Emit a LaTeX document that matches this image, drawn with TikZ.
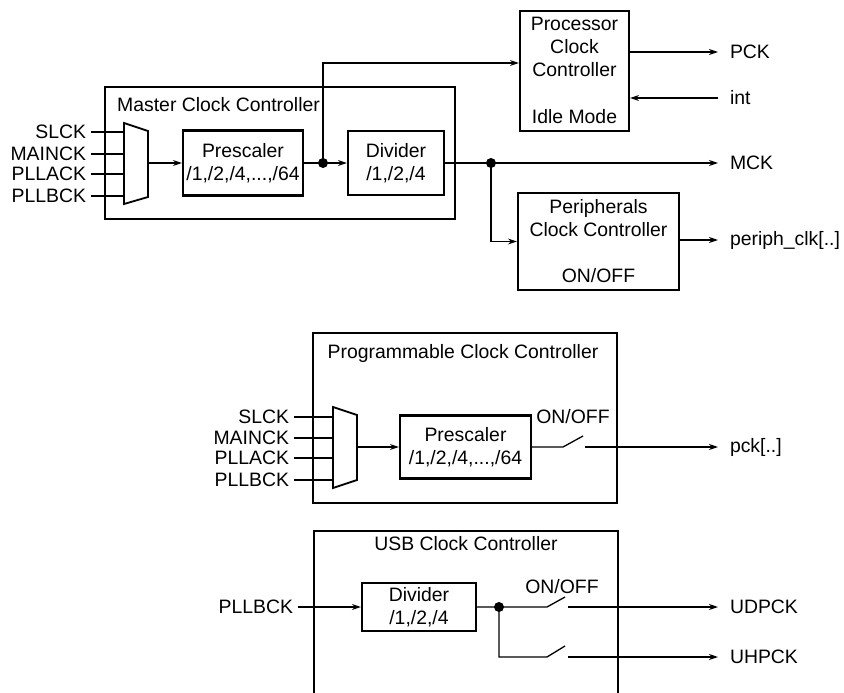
\documentclass[tikz,border=0pt]{standalone}
\usepackage{fontspec}
\setmainfont{Liberation Sans}
\usepackage{tikz}
\usetikzlibrary{calc}
\usetikzlibrary{arrows.meta}
\tikzset{
   frame/.style={draw=black, line width=2.6pt, inner sep=0pt},
   block/.style={draw=black, line width=2.2pt, inner sep=0pt, align=center},
   wire/.style={draw=black, line width=1.3pt},
   sig/.style={wire, -{Stealth[length=9pt, width=6pt]}},
   mux/.style={draw=black, line width=1.8pt, line join=miter},
   inlbl/.style={anchor=east, inner sep=0pt, outer xsep=5pt},
   outlbl/.style={anchor=west, inner sep=0pt, outer xsep=12pt},
   txt/.style={inner sep=0pt, align=center},
    }

\begin{document}
\begin{tikzpicture}[x=1pt, y=-1pt, every node/.style={font=\fontsize{19.4}{23}\selectfont}]
            \useasboundingbox (0,0) rectangle (844,693);
            % master clock controller
            \node[frame, minimum width=350pt, minimum height=132pt] (mcc) at (280,153) {};
            \node[txt, anchor=west] (mcct) at (117,105) {Master Clock Controller};
            \coordinate (ma) at (124,123);
            \coordinate (mb) at (148,131);
            \coordinate (mc) at (148,197);
            \coordinate (md) at (124,204);
            \coordinate (mo) at (148,163);
            \draw[mux] (ma) -- (mb) -- (mc) -- (md) -- cycle;
            \node[inlbl] (slck) at (91,132) {SLCK};
            \node[inlbl] (mainck) at (91,154) {MAINCK};
            \node[inlbl] (pllack) at (91,174) {PLLACK};
            \node[inlbl] (pllbck) at (91,196) {PLLBCK};
            \draw[wire] (slck.east) -- (slck.east -| ma);
            \draw[wire] (mainck.east) -- (mainck.east -| ma);
            \draw[wire] (pllack.east) -- (pllack.east -| ma);
            \draw[wire] (pllbck.east) -- (pllbck.east -| ma);
            \node[block, minimum width=120pt, minimum height=65pt] (pre) at (243,163) {Prescaler\\/1,/2,/4,...,/64};
            \node[block, minimum width=96pt, minimum height=64pt] (div) at (396,163) {Divider\\/1,/2,/4};
            \coordinate (d1) at (323,163);
            \coordinate (d2) at (491,163);
            % processor and peripherals
            \node[block, minimum width=109pt, minimum height=120pt] (proc) at (574.5,71) {};
            \node[txt] (proct) at (574.5,47) {Processor\\Clock\\Controller};
            \node[txt] (idle) at (574.5,117) {Idle Mode};
            \node[outlbl] (pck) at (718,52) {PCK};
            \node[outlbl] (intr) at (718,98) {int};
            \node[outlbl] (mck) at (718,163) {MCK};
            \node[block, minimum width=161pt, minimum height=97pt] (per) at (598.5,241.5) {};
            \node[txt] (pert) at (598.5,218) {Peripherals\\Clock Controller};
            \node[txt] (peron) at (598.5,276) {ON/OFF};
            \node[outlbl] (pclk) at (718,240) {periph\_clk[..]};
            \draw[sig] (mo) -- (pre.west);
            \draw[wire] (pre.east) -- (d1);
            \draw[sig] (d1) -- (div.west);
            \draw[sig] (d1) |- ([yshift=8pt]proc.west);
            \draw[wire] (div.east) -- (d2);
            \draw[sig] (d2) -- (mck.west);
            \draw[sig] (d2) |- (per.west);
            \draw[sig] (proc.east |- pck.west) -- (pck.west);
            \draw[sig] (intr.west) -- (proc.east |- intr.west);
            \draw[sig] (per.east |- pclk.west) -- (pclk.west);
            \fill (d1) circle (5pt);
            \fill (d2) circle (5pt);
            % programmable clock controller
            \node[frame, minimum width=304pt, minimum height=170pt] (pcc) at (465,418) {};
            \node[txt] (pcct) at (463,353) {Programmable Clock Controller};
            \coordinate (na) at (333,407);
            \coordinate (nb) at (357,415);
            \coordinate (nc) at (357,480);
            \coordinate (nd) at (333,488);
            \coordinate (no) at (357,447);
            \draw[mux] (na) -- (nb) -- (nc) -- (nd) -- cycle;
            \node[inlbl] (slck2) at (294,417) {SLCK};
            \node[inlbl] (mainck2) at (294,438) {MAINCK};
            \node[inlbl] (pllack2) at (294,458) {PLLACK};
            \node[inlbl] (pllbck2) at (294,480) {PLLBCK};
            \draw[wire] (slck2.east) -- (slck2.east -| na);
            \draw[wire] (mainck2.east) -- (mainck2.east -| na);
            \draw[wire] (pllack2.east) -- (pllack2.east -| na);
            \draw[wire] (pllbck2.east) -- (pllbck2.east -| na);
            \node[block, minimum width=131pt, minimum height=63pt] (pre2) at (465.5,447) {Prescaler\\/1,/2,/4,...,/64};
            \node[txt] (on1) at (573,417) {ON/OFF};
            \node[outlbl] (pck2) at (718,447) {pck[..]};
            \coordinate (s1a) at (563,447);
            \coordinate (s1b) at (583,436);
            \coordinate (s1c) at (585,447);
            \draw[sig] (no) -- (pre2.west);
            \draw[wire] (pre2.east) -- (s1a) -- (s1b);
            \draw[sig] (s1c) -- (pck2.west);
            % usb clock controller
            \draw[frame] (314,700) -- (314,531) -- (618,531) -- (618,700);
            \node[txt] (usbt) at (466,544) {USB Clock Controller};
            \node[inlbl] (pllbck3) at (298,607) {PLLBCK};
            \node[block, minimum width=114pt, minimum height=48pt] (div2) at (419,607) {Divider\\/1,/2,/4};
            \node[txt] (on2) at (562,587) {ON/OFF};
            \node[outlbl] (udpck) at (718,607) {UDPCK};
            \node[outlbl] (uhpck) at (718,657) {UHPCK};
            \coordinate (d3) at (499,607);
            \coordinate (s2a) at (547,607);
            \coordinate (s2b) at (565,597);
            \coordinate (s2c) at (568,607);
            \coordinate (s3a) at (547,657);
            \coordinate (s3b) at (565,646);
            \coordinate (s3c) at (568,657);
            \draw[sig] (pllbck3.east) -- (div2.west);
            \draw[wire] (div2.east) -- (d3) -- (s2a) -- (s2b);
            \draw[wire] (d3) |- (s3a) -- (s3b);
            \draw[sig] (s2c) -- (udpck.west);
            \draw[sig] (s3c) -- (uhpck.west);
            \fill (d3) circle (5pt);
        \end{tikzpicture}
\end{document}
